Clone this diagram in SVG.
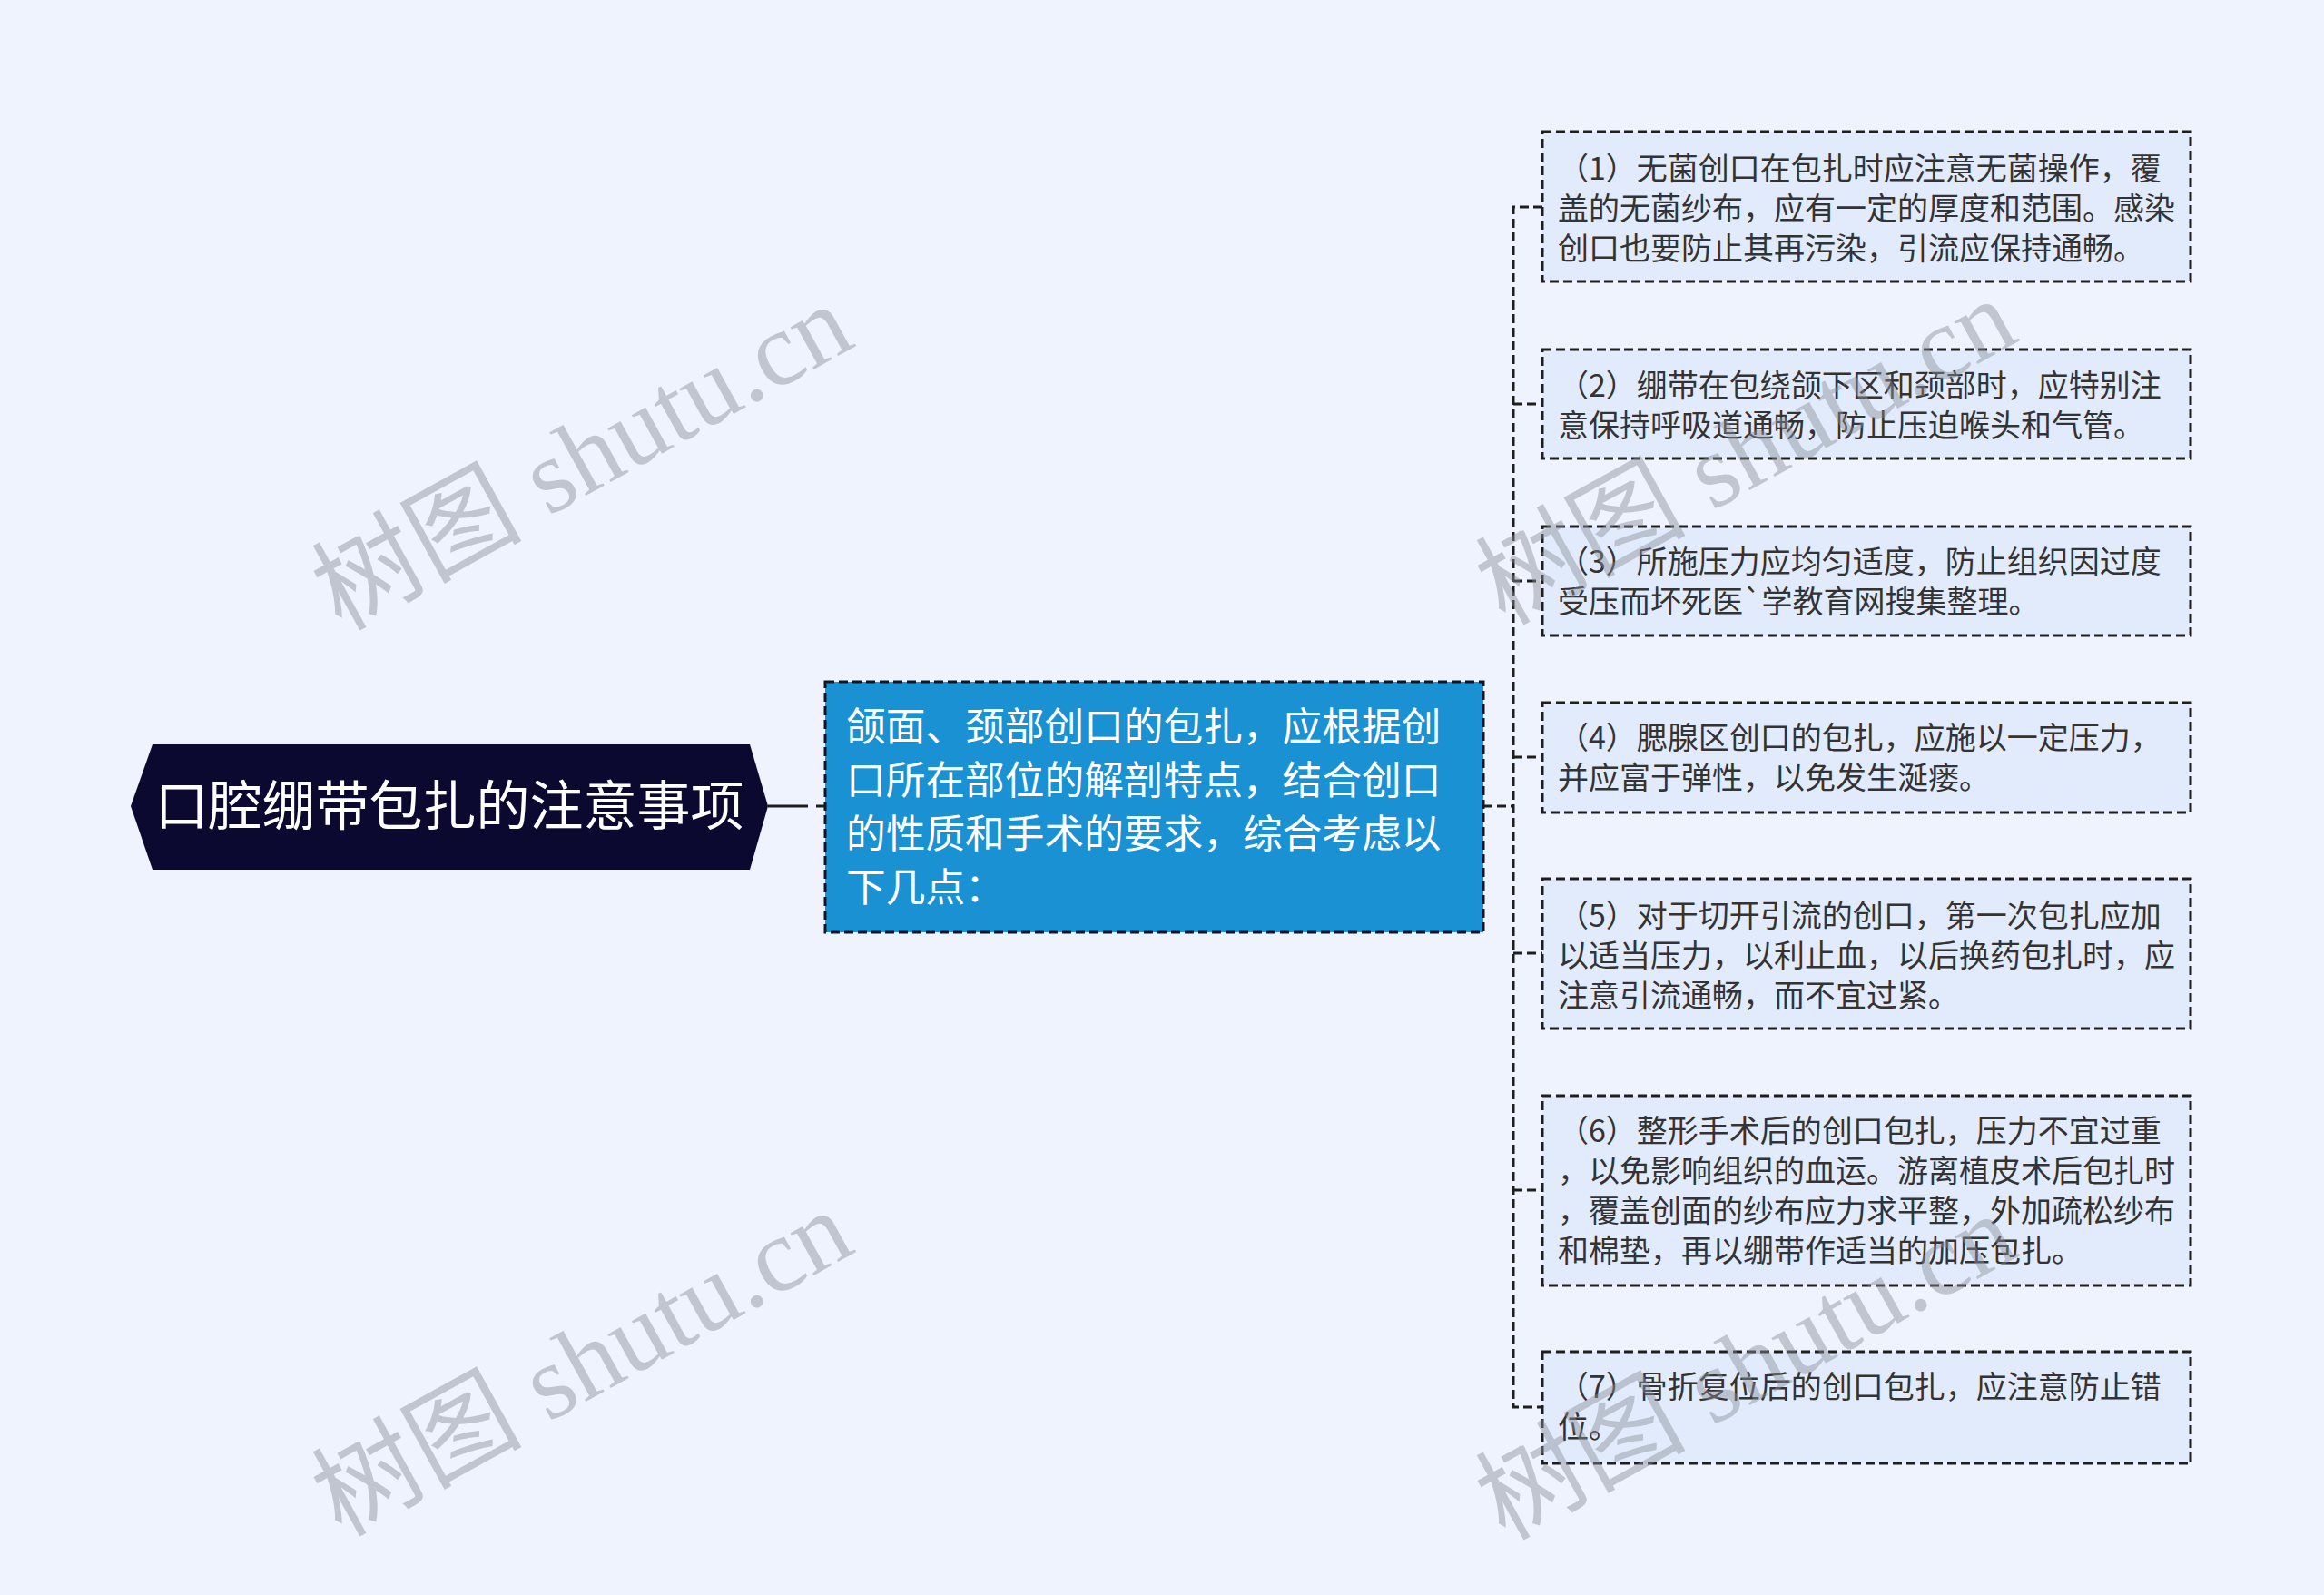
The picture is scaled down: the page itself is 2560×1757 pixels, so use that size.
<svg xmlns="http://www.w3.org/2000/svg" width="2560" height="1757" viewBox="0 0 2560 1757">
<style>
.bg{fill:#EEF3FD}
.root{fill:#0B0930}
.rootT{font-family:"Noto Sans CJK SC","Noto Sans",sans-serif;font-size:59px;fill:#FFFFFF}
.mid{fill:#1A91D2;stroke:#141428;stroke-width:3;stroke-dasharray:10 5}
.midT{font-family:"Noto Sans CJK SC","Noto Sans",sans-serif;font-size:43.7px;fill:#FFFFFF}
.leaf{fill:#E2EBFB;stroke:#1E1E1E;stroke-width:3;stroke-dasharray:10 5}
.leafT{font-family:"Noto Sans CJK SC","Noto Sans",sans-serif;font-size:34px;fill:#333333}
.conn{fill:none;stroke:#1E1E1E;stroke-width:3;stroke-dasharray:10 5}
.wm{font-family:"Liberation Serif","Noto Sans CJK SC",serif;font-size:116px;fill:#8A8F99;fill-opacity:0.45}
</style>
<rect class="bg" x="0" y="0" width="2560" height="1757"/>
<g id="connectors">
<path class="conn" style="stroke-dasharray:44 9 10 5" d="M846,888 H909"/>
<path class="conn" d="M1634,888 H1667"/>
<path class="conn" d="M1699,228 H1667 V1550 H1699"/>
<path class="conn" d="M1667,445 H1699"/>
<path class="conn" d="M1667,640 H1699"/>
<path class="conn" d="M1667,834 H1699"/>
<path class="conn" d="M1667,1050 H1699"/>
<path class="conn" d="M1667,1311 H1699"/>
</g>
<g id="root">
<polygon class="root" points="144,888 168,820 826,820 846,888 826,958 168,958"/>
<text class="rootT" x="495" y="909" text-anchor="middle">口腔绷带包扎的注意事项</text>
</g>
<g id="middle">
<rect class="mid" x="909" y="751" width="725" height="276"/>
<text class="midT"><tspan x="932" y="816">颌面、颈部创口的包扎，应根据创</tspan><tspan x="932" y="875">口所在部位的解剖特点，结合创口</tspan><tspan x="932" y="934">的性质和手术的要求，综合考虑以</tspan><tspan x="932" y="993">下几点：</tspan></text>
</g>
<g id="n1">
<rect class="leaf" x="1699" y="145" width="714" height="165"/>
<text class="leafT"><tspan x="1716" y="198">（1）无菌创口在包扎时应注意无菌操作，覆</tspan><tspan x="1716" y="242">盖的无菌纱布，应有一定的厚度和范围。感染</tspan><tspan x="1716" y="286">创口也要防止其再污染，引流应保持通畅。</tspan></text>
</g>
<g id="n2">
<rect class="leaf" x="1699" y="385" width="714" height="120"/>
<text class="leafT"><tspan x="1716" y="437">（2）绷带在包绕颌下区和颈部时，应特别注</tspan><tspan x="1716" y="481">意保持呼吸道通畅，防止压迫喉头和气管。</tspan></text>
</g>
<g id="n3">
<rect class="leaf" x="1699" y="580" width="714" height="120"/>
<text class="leafT"><tspan x="1716" y="631">（3）所施压力应均匀适度，防止组织因过度</tspan><tspan x="1716" y="675">受压而坏死医`学教育网搜集整理。</tspan></text>
</g>
<g id="n4">
<rect class="leaf" x="1699" y="774" width="714" height="121"/>
<text class="leafT"><tspan x="1716" y="825">（4）腮腺区创口的包扎，应施以一定压力，</tspan><tspan x="1716" y="869">并应富于弹性，以免发生涎瘘。</tspan></text>
</g>
<g id="n5">
<rect class="leaf" x="1699" y="968" width="714" height="165"/>
<text class="leafT"><tspan x="1716" y="1021">（5）对于切开引流的创口，第一次包扎应加</tspan><tspan x="1716" y="1065">以适当压力，以利止血，以后换药包扎时，应</tspan><tspan x="1716" y="1109">注意引流通畅，而不宜过紧。</tspan></text>
</g>
<g id="n6">
<rect class="leaf" x="1699" y="1207" width="714" height="209"/>
<text class="leafT"><tspan x="1716" y="1258">（6）整形手术后的创口包扎，压力不宜过重</tspan><tspan x="1716" y="1302">，以免影响组织的血运。游离植皮术后包扎时</tspan><tspan x="1716" y="1346">，覆盖创面的纱布应力求平整，外加疏松纱布</tspan><tspan x="1716" y="1390">和棉垫，再以绷带作适当的加压包扎。</tspan></text>
</g>
<g id="n7">
<rect class="leaf" x="1699" y="1489" width="714" height="123"/>
<text class="leafT"><tspan x="1716" y="1540">（7）骨折复位后的创口包扎，应注意防止错</tspan><tspan x="1716" y="1584">位。</tspan></text>
</g>
<g id="watermarks">
<text class="wm" text-anchor="middle" transform="translate(660,538) rotate(-29)">树图 shutu.cn</text>
<text class="wm" text-anchor="middle" transform="translate(1942,532) rotate(-29)">树图 shutu.cn</text>
<text class="wm" text-anchor="middle" transform="translate(660,1536) rotate(-29)">树图 shutu.cn</text>
<text class="wm" text-anchor="middle" transform="translate(1942,1540) rotate(-29)">树图 shutu.cn</text>
</g>
</svg>
